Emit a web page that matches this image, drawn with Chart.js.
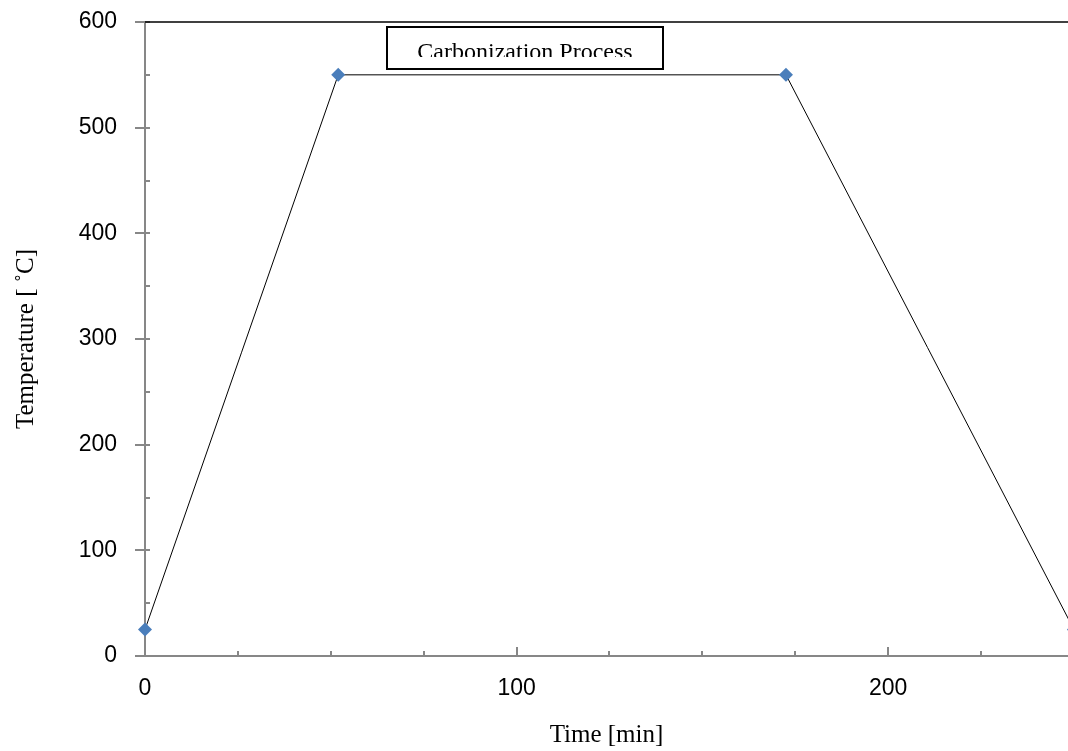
<!DOCTYPE html>
<html>
<head>
    <meta charset="UTF-8">
    <title>Carbonization Process</title>
    <script src="https://cdn.jsdelivr.net/npm/chart.js@4/dist/chart.umd.min.js"></script>
    <style>
      html, body { margin: 0; padding: 0; background: #fff; overflow: hidden; }
      /* the plot runs past the right edge, as in the original picture */
      .chart-container { position: relative; width: 1068px; height: 751px; overflow: hidden; }
    </style>
</head>
<body>
    <div class="chart-container">
        <canvas id="myChart" width="1075" height="751"></canvas>
    </div>

  <script>
      // data
      const timeMin = [0, 52, 172.5, 250];
      const tempC = [25, 550, 550, 25];
      const xLabels = [0, 100, 200];
      const yLabels = [0, 100, 200, 300, 400, 500, 600];
      const boxText = 'Carbonization Process';

      const axisGray = '#878787';

      // small tick marks inside the plot, like the original
      const tickPlugin = {
          id: 'innerTicks',
          afterDraw(chart) {
              const c = chart.ctx;
              const xs = chart.scales.x, ys = chart.scales.y;
              const area = chart.chartArea;
              c.save();
              c.strokeStyle = axisGray;
              c.lineWidth = 2;
              for (let v = 0; v <= xs.max; v += 25) {
                  const px = Math.round(xs.getPixelForValue(v));
                  const len = xLabels.includes(v) ? 9 : 5;
                  c.beginPath();
                  c.moveTo(px, area.bottom);
                  c.lineTo(px, area.bottom - len);
                  c.stroke();
              }
              for (let v = 0; v <= ys.max; v += 50) {
                  const py = Math.round(ys.getPixelForValue(v));
                  const out = yLabels.includes(v) ? 10 : 0;
                  c.beginPath();
                  c.moveTo(area.left - out, py);
                  c.lineTo(area.left + 5, py);
                  c.stroke();
              }
              // top border
              c.strokeStyle = '#000';
              c.lineWidth = 1.5;
              c.beginPath();
              c.moveTo(area.left, area.top);
              c.lineTo(area.right, area.top);
              c.stroke();

              // annotation box
              const bx = 387, by = 27, bw = 276, bh = 42;
              c.fillStyle = '#fff';
              c.fillRect(bx, by, bw, bh);
              c.lineWidth = 2;
              c.strokeRect(bx, by, bw, bh);
              c.beginPath();
              c.rect(bx, by, bw, 30);
              c.clip();
              c.fillStyle = '#000';
              c.font = '24px "Liberation Serif", "Times New Roman", serif';
              c.textAlign = 'center';
              c.textBaseline = 'alphabetic';
              c.fillText(boxText, 525, 59);
              c.restore();
          }
      };

      const ctx = document.getElementById('myChart').getContext('2d');
      const myChart = new Chart(ctx, {
          type: 'scatter',
          data: {
              datasets: [{
                  label: 'Temperature',
                  data: timeMin.map((t, i) => ({ x: t, y: tempC[i] })),
                  showLine: true,
                  clip: { left: 10, top: 10, right: 0, bottom: 10 },
                  borderColor: '#000',
                  borderWidth: 1,
                  pointStyle: 'rectRot',
                  pointRadius: 7,
                  pointBackgroundColor: '#4a7ebb',
                  pointBorderColor: '#4a7ebb',
                  pointBorderWidth: 0
              }]
          },
          plugins: [tickPlugin],
          options: {
              responsive: false,
              animation: false,
              devicePixelRatio: 1,
              layout: { padding: { top: 22, right: 0, left: 0, bottom: 0 } },
              plugins: {
                  legend: { display: false },
                  tooltip: { enabled: false }
              },
              scales: {
                  x: {
                      type: 'linear',
                      min: 0,
                      max: 248.4,
                      afterFit(scale) {
                          scale.height = 95;
                          scale.paddingLeft = 0;
                          scale.paddingRight = 0;
                      },
                      border: { color: axisGray, width: 2 },
                      grid: { display: false, drawTicks: false },
                      ticks: {
                          stepSize: 100,
                          includeBounds: false,
                          padding: 19,
                          color: '#000',
                          font: { family: '"Liberation Sans", Arial, sans-serif', size: 23 },
                          callback: v => xLabels.includes(v) ? v : ''
                      },
                      title: {
                          display: true,
                          text: 'Time [min]',
                          color: '#000',
                          padding: { top: 0, bottom: 1 },
                          font: { family: '"Liberation Serif", "Times New Roman", serif', size: 25 }
                      }
                  },
                  y: {
                      min: 0,
                      max: 600,
                      afterFit(scale) {
                          scale.width = 145;
                          scale.paddingTop = 0;
                          scale.paddingBottom = 0;
                      },
                      border: { color: axisGray, width: 2 },
                      grid: { display: false, drawTicks: false },
                      ticks: {
                          stepSize: 100,
                          padding: 28,
                          color: '#000',
                          font: { family: '"Liberation Sans", Arial, sans-serif', size: 23 },
                          callback: v => yLabels.includes(v) ? v : ''
                      },
                      title: {
                          display: true,
                          text: 'Temperature [ ˚C]',
                          color: '#000',
                          padding: { top: 11, bottom: 0 },
                          font: { family: '"Liberation Serif", "Times New Roman", serif', size: 25 }
                      }
                  }
              }
          }
      });
  </script>
</body>
</html>
